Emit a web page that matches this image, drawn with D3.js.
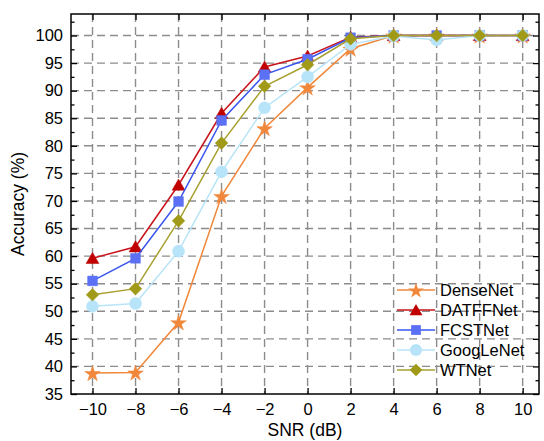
<!DOCTYPE html>
<html><head><meta charset="utf-8">
<script src="https://cdn.jsdelivr.net/npm/d3@7"></script>
<style>body{margin:0;background:#fff}svg{display:block}text{font-family:"Liberation Sans",Arial,sans-serif}</style>
</head><body><svg id="c" width="544" height="441"></svg>
<script>
const snr = [-10,-8,-6,-4,-2,0,2,4,6,8,10];
const denseNet  = [38.8,38.9,48.0,70.9,83.2,90.6,97.6,100,100,100,100];
const datffNet  = [59.6,61.7,72.9,85.9,94.3,96.3,99.7,100,100,100,100];
const fcstNet   = [55.5,59.6,69.9,84.6,92.9,95.7,99.6,100,100,100,100];
const googLeNet = [50.9,51.4,60.9,75.3,86.9,92.5,98.4,99.9,99.2,100,100];
const wtNet     = [53.0,54.1,66.4,80.5,90.8,94.7,99.4,100,100,100,100];
const xTicks = [-10,-8,-6,-4,-2,0,2,4,6,8,10];
const yTicks = [35,40,45,50,55,60,65,70,75,80,85,90,95,100];
const yMinor = [37.5,42.5,47.5,52.5,57.5,62.5,67.5,72.5,77.5,82.5,87.5,92.5,97.5,102.5];

const series = [
  {name:"DenseNet", data:denseNet, color:"#F0873A", fill:"#F0873A", shape:"star"},
  {name:"DATFFNet", data:datffNet, color:"#C8141C", fill:"#C00000", shape:"tri"},
  {name:"FCSTNet", data:fcstNet, color:"#3A55F0", fill:"#5B70F5", shape:"sq"},
  {name:"GoogLeNet", data:googLeNet, color:"#B8E4F8", fill:"#B8E4FA", shape:"circ"},
  {name:"WTNet", data:wtNet, color:"#A8A030", fill:"#A09A18", shape:"dia"}
];

const svg = d3.select("#c");
const L=71, T=14, R=539, B=394;
const x = d3.scaleLinear().domain([-11,10.76]).range([L,R]);
const y = d3.scaleLinear().domain([35,103.9]).range([B,T]);

// grid
const g = svg.append("g");
g.selectAll(".gx").data(xTicks).join("line")
  .attr("x1",d=>x(d)).attr("x2",d=>x(d)).attr("y1",T).attr("y2",B)
  .attr("stroke","#8c8c8c").attr("stroke-width",1.4).attr("stroke-dasharray","8,5");
g.selectAll(".gy").data(yTicks.filter(d=>d>35)).join("line")
  .attr("y1",d=>y(d)).attr("y2",d=>y(d)).attr("x1",L).attr("x2",R)
  .attr("stroke","#8c8c8c").attr("stroke-width",1.4).attr("stroke-dasharray","8,5");

// axes
const fs = "16.5px";
const axB = svg.append("g").attr("transform",`translate(0,${B})`)
  .call(d3.axisBottom(x).tickValues(xTicks).tickSize(-6).tickPadding(9).tickFormat(d=>d<0?"\u2212"+Math.abs(d):d));
const axT = svg.append("g").attr("transform",`translate(0,${T})`)
  .call(d3.axisTop(x).tickValues(xTicks).tickSize(-6).tickFormat(""));
const axL = svg.append("g").attr("transform",`translate(${L},0)`)
  .call(d3.axisLeft(y).tickValues(yTicks).tickSize(-6).tickPadding(8));
const axLm = svg.append("g").attr("transform",`translate(${L},0)`)
  .call(d3.axisLeft(y).tickValues(yMinor).tickSize(-3.5).tickFormat(""));
const axR = svg.append("g").attr("transform",`translate(${R},0)`)
  .call(d3.axisRight(y).tickValues(yTicks).tickSize(-6).tickFormat(""));
const axRm = svg.append("g").attr("transform",`translate(${R},0)`)
  .call(d3.axisRight(y).tickValues(yMinor).tickSize(-3.5).tickFormat(""));
[axB,axT,axL,axLm,axR,axRm].forEach(a=>{
  a.select(".domain").remove();
  a.selectAll("line").attr("stroke","#000").attr("stroke-width",1.3);
  a.selectAll("text").attr("font-size",fs).attr("fill","#000").style("font-family","'Liberation Sans',Arial,sans-serif");
});
svg.append("rect").attr("x",L).attr("y",T).attr("width",R-L).attr("height",B-T)
  .attr("fill","none").attr("stroke","#000").attr("stroke-width",1.5);

// axis titles
svg.append("text").attr("x",(L+R)/2).attr("y",436).attr("text-anchor","middle")
  .attr("font-size","17.5px").text("SNR (dB)");
svg.append("text").attr("transform",`translate(24,${(T+B)/2}) rotate(-90)`).attr("text-anchor","middle")
  .attr("font-size","17.5px").text("Accuracy (%)");

// symbols
function sym(shape){
  const m = {star:[d3.symbolStar,75], tri:[d3.symbolTriangle,72], sq:[d3.symbolSquare,95], circ:[d3.symbolCircle,115], dia:[d3.symbolSquare,80]}[shape];
  return d3.symbol().type(m[0]).size(m[1])();
}
function tf(shape){
  if(shape==="tri") return " translate(0,1.5)";
  if(shape==="dia") return " rotate(45)";
  if(shape==="star") return " translate(0,1)";
  return "";
}

const line = d3.line().x((d,i)=>x(snr[i])).y(d=>y(d));
series.forEach(s=>{
  const gs = svg.append("g");
  gs.append("path").attr("d",line(s.data)).attr("fill","none").attr("stroke",s.color).attr("stroke-width",1.5);
  gs.selectAll("path.m").data(s.data).join("path").attr("class","m")
    .attr("d",sym(s.shape))
    .attr("transform",(d,i)=>`translate(${x(snr[i])},${y(d)})`+tf(s.shape))
    .attr("fill",s.fill).attr("stroke",s.fill).attr("stroke-width",0.5);
});

// legend
const lg = svg.append("g");
series.forEach((s,i)=>{
  const yy = 290 + i*20;
  lg.append("line").attr("x1",397).attr("x2",435).attr("y1",yy).attr("y2",yy).attr("stroke",s.color).attr("stroke-width",1.5);
  lg.append("path").attr("d",sym(s.shape)).attr("transform",`translate(416,${yy})`+tf(s.shape)).attr("fill",s.fill);
  lg.append("text").attr("x",440).attr("y",yy).attr("dy","0.35em").attr("font-size","16.5px").text(s.name);
});
</script></body></html>
